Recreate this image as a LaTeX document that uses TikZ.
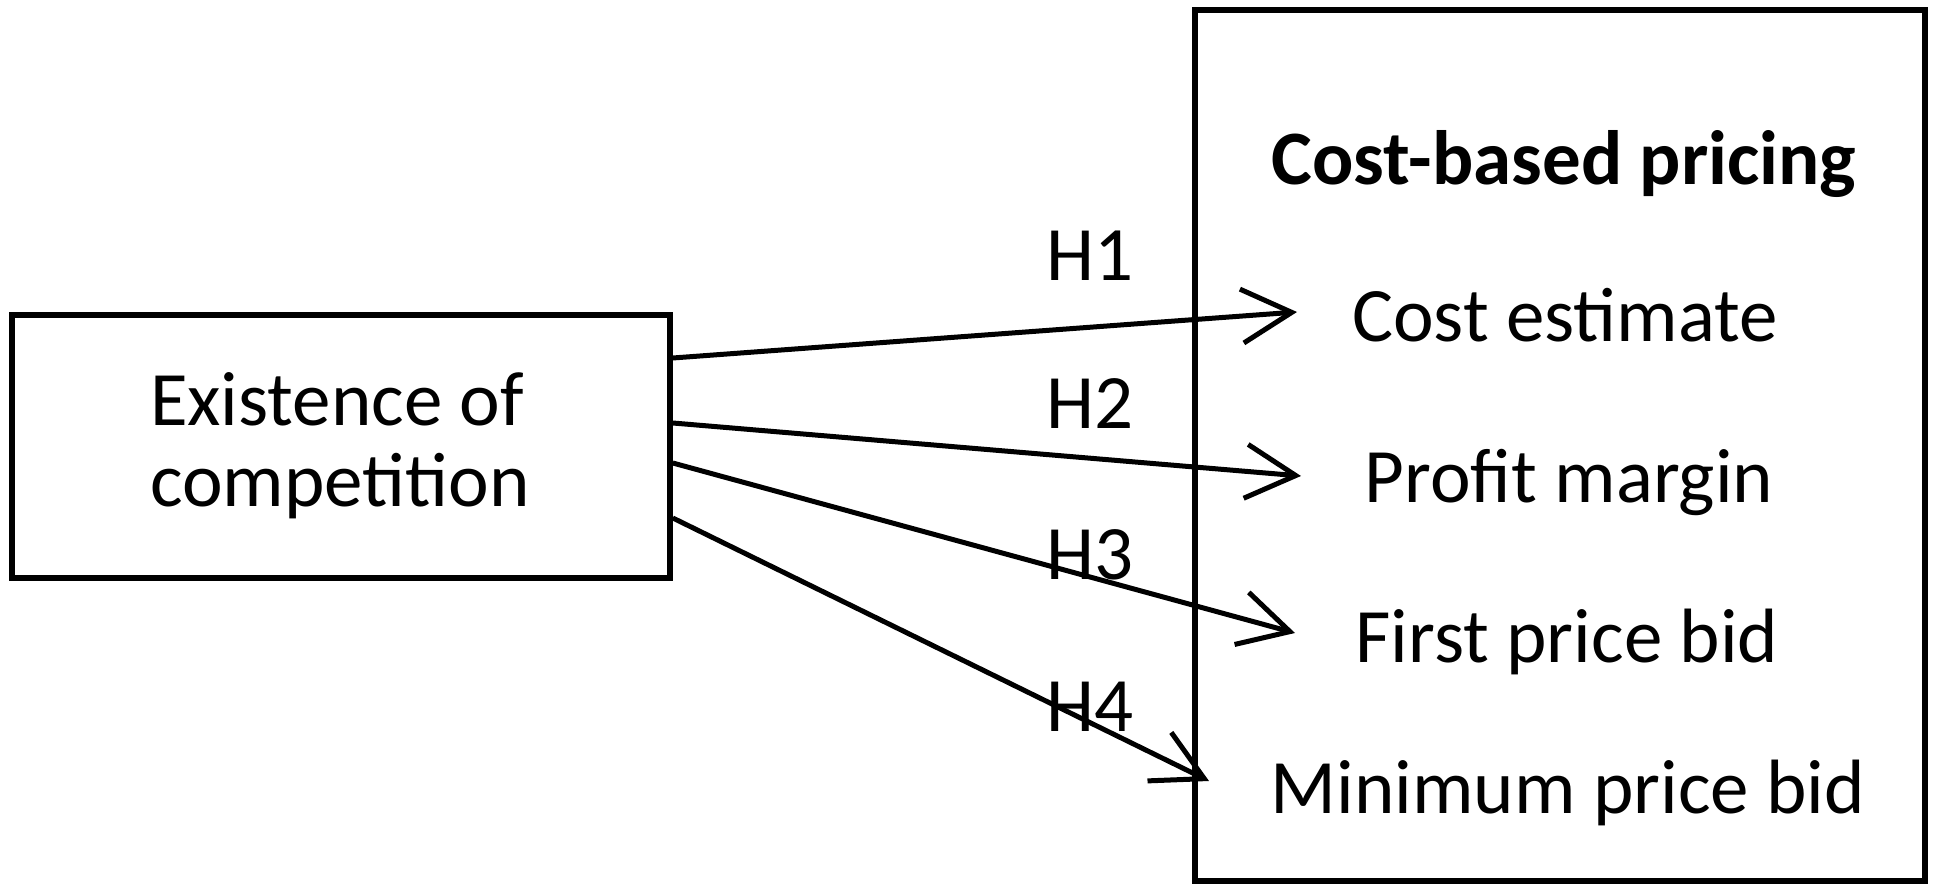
\documentclass[tikz,border=0pt]{standalone}
\usepackage{fontspec}
\setmainfont{Carlito}
\usetikzlibrary{arrows.meta}
\begin{document}
\begin{tikzpicture}[x=0.5pt,y=-0.5pt,
  txt/.style={font=\fontsize{38.5}{40}\selectfont, inner sep=0pt, anchor=base},
  boxed/.style={draw, line width=2.8pt, inner sep=0pt},
  conn/.style={line width=2.5pt, -{Straight Barb[length=25pt,width=27pt,line width=2.5pt]}}]
\useasboundingbox (0,0) rectangle (1935,886);
\node[boxed, minimum width=329pt, minimum height=131.5pt] (ext) at (341,446.5) {};
\node[boxed, line width=2.6pt, minimum width=365pt, minimum height=435.5pt] (cbp) at (1560,445.5) {};
\node[txt] (l1) at (337,426) {Existence of};
\node[txt] (l2) at (340,507) {competition};
\node[txt, font=\fontsize{38.5}{40}\selectfont\bfseries] (title) at (1564,185) {Cost-based pricing};
\node[txt] (ce) at (1565,342) {Cost estimate};
\node[txt] (pm) at (1569,503) {Profit margin};
\node[txt] (fp) at (1567,663) {First price bid};
\node[txt] (mp) at (1568,814) {Minimum price bid};
\node[txt] (h1) at (1090,281) {H1};
\node[txt] (h2) at (1090,429) {H2};
\node[txt] (h3) at (1090,580) {H3};
\node[txt] (h4) at (1090,732) {H4};
\coordinate (t1) at (1297,312);
\coordinate (t2) at (1301,476);
\coordinate (t3) at (1295,633);
\coordinate (t4) at (1209,781);
\draw[conn] ([yshift=44.25pt]ext.east) -- (t1);
\draw[conn] ([yshift=11.75pt]ext.east) -- (t2);
\draw[conn] ([yshift=-8.25pt]ext.east) -- (t3);
\draw[conn] ([yshift=-35.75pt]ext.east) -- (t4);
\end{tikzpicture}
\end{document}
